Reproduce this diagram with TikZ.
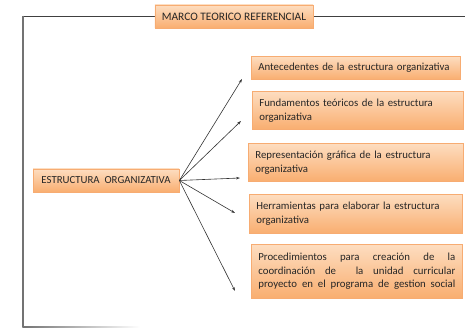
\documentclass[tikz,border=0pt]{standalone}
\usepackage{fontspec}
\setmainfont{Carlito}
\usetikzlibrary{arrows.meta,shadows,positioning}
\hyphenpenalty=10000
\exhyphenpenalty=10000

\definecolor{naranjaclaro}{HTML}{FDDDC0}
\definecolor{naranja}{HTML}{F9AE70}
\definecolor{borde}{HTML}{F7AC72}

\tikzset{
  kasten/.style={draw=borde, line width=0.7pt, top color=naranjaclaro, bottom color=naranja,
    drop shadow={opacity=0.25, shadow xshift=0.8pt, shadow yshift=-1pt},
    inner xsep=7pt, inner ysep=2pt, text=black!85,
    font=\fontsize{10.8}{13.8}\selectfont},
  rahmen/.style={draw=black!75, line width=0.9pt},
  pfeil/.style={draw=black!80, line width=0.6pt, -{Stealth[length=4pt,width=2.6pt]}}
}

\begin{document}
\begin{tikzpicture}[x=1pt,y=-1pt]
  \useasboundingbox (0,0) rectangle (465,328);
  % Rahmen
  \draw[rahmen] (465,16) -- (23,16);
  \draw[rahmen, draw=black!55, line width=1.4pt] (23,15.55) -- (23,327.2);
  \shade[left color=black!55, right color=white] (22.3,326.5) rectangle (140,327.8);

  % Titel und Hauptknoten
  \node[kasten, minimum width=158, minimum height=23, font=\fontsize{11.4}{14}\selectfont] (marco) at (234,16.5) {MARCO TEORICO REFERENCIAL};
  \node[kasten, minimum width=146, minimum height=23] (estructura) at (106,180.5) {ESTRUCTURA\ \ ORGANIZATIVA};

  % Kaesten rechts
  \node[kasten, anchor=north west, minimum width=209, minimum height=23, text width=195, align=left] (antecedentes) at (251,56)
    {Antecedentes de la estructura organizativa};
  \node[kasten, anchor=north west, minimum width=211, minimum height=38, text width=197, align=left] (fundamentos) at (252,91)
    {Fundamentos teóricos de la estructura\\ organizativa};
  \node[kasten, anchor=north west, minimum width=215, minimum height=38, text width=201, align=left] (representacion) at (248,143)
    {Representación gráfica de la estructura\\ organizativa};
  \node[kasten, anchor=north west, minimum width=213, minimum height=39, text width=199, align=left] (herramientas) at (249,194)
    {Herramientas para elaborar la estructura\\ organizativa};
  \node[kasten, anchor=north west, minimum width=211, minimum height=54, text width=197, align=justify] (procedimientos) at (251,244)
    {Procedimientos para creación de la\linebreak coordinación de \ la unidad curricular\linebreak \makebox[\linewidth][s]{proyecto en el programa de gestion social}};

  % Pfeilspitzen
  \coordinate (p1) at (242,79);
  \coordinate (p2) at (241,121);
  \coordinate (p3) at (240,178);
  \coordinate (p4) at (235,213);
  \coordinate (p5) at (235,291);

  \draw[pfeil] (estructura.east) -- (p1);
  \draw[pfeil] (estructura.east) -- (p2);
  \draw[pfeil] (estructura.east) -- (p3);
  \draw[pfeil] (estructura.east) -- (p4);
  \draw[pfeil] (estructura.east) -- (p5);
\end{tikzpicture}
\end{document}
